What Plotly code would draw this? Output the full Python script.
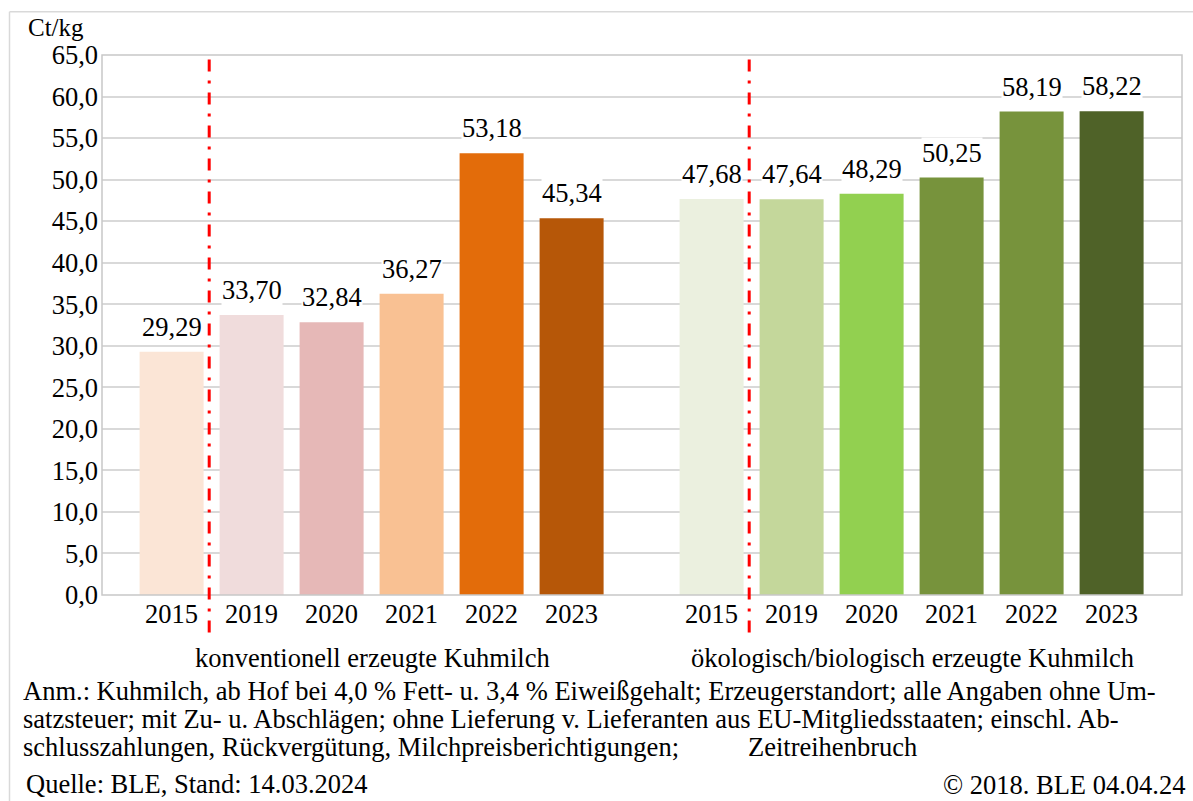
import plotly.graph_objects as go
from plotly.subplots import make_subplots

years = ["2015", "2019", "2020", "2021", "2022", "2023"]
konventionell = [29.29, 33.70, 32.84, 36.27, 53.18, 45.34]
oekologisch = [47.68, 47.64, 48.29, 50.25, 58.19, 58.22]
konv_colors = ["#fbe5d6", "#f0dcdc", "#e6b8b7", "#f9c193", "#e36c0a", "#b65708"]
oeko_colors = ["#ebf0df", "#c4d79b", "#92d050", "#77933c", "#77933c", "#4f6228"]
group_names = ["konventionell erzeugte Kuhmilch", "ökologisch/biologisch erzeugte Kuhmilch"]
y_ticks = list(range(0, 70, 5))

FONT = "Liberation Serif"
FS = 26.5

# plot area in pixels (1193 x 801 page)
L, R, T, B = 102, 1182, 55, 595.5


def px(x):
    return (x - L) / (R - L)


def py(y):
    return (B - y) / (B - T)


def fmt(v):
    return f"{v:.2f}".replace(".", ",")


txt = dict(family=FONT, size=FS, color="black")

fig = make_subplots(rows=1, cols=2, shared_yaxes=True, horizontal_spacing=0)

for col, (vals, colors) in enumerate([(konventionell, konv_colors), (oekologisch, oeko_colors)], start=1):
    fig.add_trace(go.Bar(x=years, y=vals, marker=dict(color=colors, line=dict(width=0)),
                         width=0.8, showlegend=False, hoverinfo="skip"), row=1, col=col)
    xr = "x" if col == 1 else "x2"
    for i, v in enumerate(vals):
        fig.add_annotation(x=i, y=v, xref=xr, yref="y", text=fmt(v), showarrow=False,
                           xanchor="center", yanchor="middle", yshift=25, bgcolor="white",
                           borderpad=0, font=txt)

fig.update_xaxes(type="category", range=[-0.87, 5.88], showgrid=False, showline=False,
                 ticks="", tickfont=txt, zeroline=False)
fig.update_layout(xaxis=dict(domain=[0, 0.5]), xaxis2=dict(domain=[0.5, 1]))

fig.update_yaxes(range=[0, 65], tickvals=y_ticks, tickformat=".1f", showgrid=True,
                 gridcolor="#d9d9d9", gridwidth=1.5, zeroline=False, showline=False, ticks="",
                 tickfont=txt, ticklabelstandoff=3)
fig.update_yaxes(showticklabels=False, row=1, col=2)

# plot border
fig.add_shape(type="rect", xref="paper", yref="paper", x0=0, x1=1, y0=0, y1=1,
              line=dict(color="#c8c8c8", width=1.5), layer="above")
# outer frame (top and left)
fig.add_shape(type="line", xref="paper", yref="paper", x0=px(9.5), x1=px(1200), y0=py(11.7), y1=py(11.7),
              line=dict(color="#d9d9d9", width=1.5))
fig.add_shape(type="line", xref="paper", yref="paper", x0=px(9.5), x1=px(9.5), y0=py(11.7), y1=py(810),
              line=dict(color="#d9d9d9", width=1.5))

# Zeitreihenbruch markers
for xr in ["x", "x2"]:
    fig.add_shape(type="line", xref=xr, yref="paper", x0=0.47, x1=0.47, y0=py(633), y1=py(58),
                  line=dict(color="#ff0000", width=3, dash="12px,9px,3px,9px"), layer="above")

fig.add_annotation(x=px(56), y=py(27), xref="paper", yref="paper", text="Ct/kg",
                   showarrow=False, xanchor="center", yanchor="middle", borderpad=0,
                   font=dict(family=FONT, size=25, color="black"))
for xc, name in zip([0.25, 0.75], group_names):
    fig.add_annotation(x=xc, y=py(659), xref="paper", yref="paper", text=name,
                       showarrow=False, xanchor="center", yanchor="middle", font=txt)

note_lines = [
    "Anm.: Kuhmilch, ab Hof bei 4,0 % Fett- u. 3,4 % Eiweißgehalt; Erzeugerstandort; alle Angaben ohne Um-",
    "satzsteuer; mit Zu- u. Abschlägen; ohne Lieferung v. Lieferanten aus EU-Mitgliedsstaaten; einschl. Ab-",
    "schlusszahlungen, Rückvergütung, Milchpreisberichtigungen;",
]
for i, line in enumerate(note_lines):
    fig.add_annotation(x=px(21), y=py(692 + 28 * i), xref="paper", yref="paper", text=line,
                       showarrow=False, xanchor="left", yanchor="middle", font=txt)
fig.add_annotation(x=px(746), y=py(748), xref="paper", yref="paper", text="Zeitreihenbruch",
                   showarrow=False, xanchor="left", yanchor="middle", font=txt)
fig.add_annotation(x=px(24), y=py(785), xref="paper", yref="paper", text="Quelle: BLE, Stand: 14.03.2024",
                   showarrow=False, xanchor="left", yanchor="middle", font=txt)
fig.add_annotation(x=px(1187), y=py(786), xref="paper", yref="paper", text="© 2018. BLE 04.04.24",
                   showarrow=False, xanchor="right", yanchor="middle", font=txt)

fig.update_layout(
    width=1193, height=801,
    margin=dict(l=L, r=1193 - R, t=T, b=801 - B),
    separators=",.",
    plot_bgcolor="white", paper_bgcolor="white",
    font=txt,
)

fig.write_html("out.html", config={"displayModeBar": False},
               post_script="document.body.style.margin='0';")
